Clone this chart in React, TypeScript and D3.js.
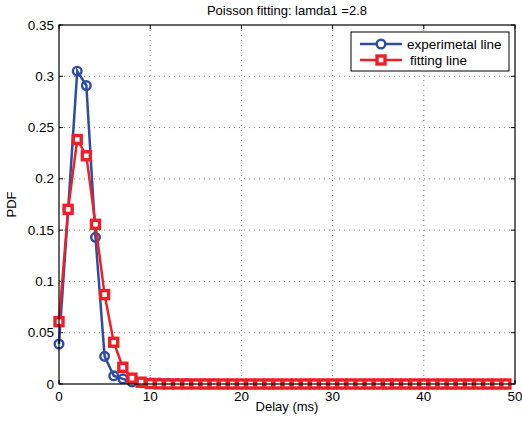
import React from "react";
import * as d3 from "d3";

const delays: number[] = Array.from({ length: 50 }, (_, i) => i);
const experimental: number[] = [
  0.039, 0.17, 0.305, 0.291, 0.143, 0.027, 0.008, 0.005, 0.002, 0.0012,
  0.001, 0.001, 0.0008, 0.0005, 0.0004, 0.0003, 0.0002, 0.0002, 0.0001, 0.0001,
  0, 0, 0, 0, 0, 0, 0, 0, 0, 0,
  0, 0, 0, 0, 0, 0, 0, 0, 0, 0,
  0, 0, 0, 0, 0, 0, 0, 0, 0, 0,
];
const fitting: number[] = [
  0.0608, 0.1703, 0.2384, 0.2225, 0.1557, 0.0872, 0.0407, 0.0163, 0.0057, 0.0018,
  0.0005, 0.0001, 0, 0, 0, 0, 0, 0, 0, 0,
  0, 0, 0, 0, 0, 0, 0, 0, 0, 0,
  0, 0, 0, 0, 0, 0, 0, 0, 0, 0,
  0, 0, 0, 0, 0, 0, 0, 0, 0, 0,
];
const xTicks = [0, 10, 20, 30, 40, 50];
const yTicks = [0, 0.05, 0.1, 0.15, 0.2, 0.25, 0.3, 0.35];
const title = "Poisson fitting: lamda1 =2.8";
const xLabel = "Delay (ms)";
const yLabel = "PDF";
const seriesNames = ["experimetal line", "fitting line"];

const BLUE = "#2c4da3";
const RED = "#ee2027";

export default function App() {
  const W = 522, H = 426;
  const left = 59, right = 515, top = 25, bottom = 384;
  const x = d3.scaleLinear().domain([0, 50]).range([left, right]);
  const y = d3.scaleLinear().domain([0, 0.35]).range([bottom, top]);
  const line = d3
    .line<[number, number]>()
    .x((d) => x(d[0]))
    .y((d) => y(d[1]));
  const expPts: [number, number][] = delays.map((d, i) => [d, experimental[i]]);
  const fitPts: [number, number][] = delays.map((d, i) => [d, fitting[i]]);
  const font = "'Liberation Sans', Arial, Helvetica, sans-serif";

  return (
    <svg
      width={W}
      height={H}
      style={{ position: "absolute", left: 0, top: 0, background: "#fff" }}
      fontFamily={font}
    >
      <rect x={0} y={0} width={W} height={H} fill="#fff" />
      {xTicks.slice(1, -1).map((t) => (
        <line
          key={"gx" + t}
          x1={x(t)}
          x2={x(t)}
          y1={top}
          y2={bottom}
          stroke="#666"
          strokeWidth={0.8}
          strokeDasharray="1,4"
        />
      ))}
      {yTicks.slice(1, -1).map((t) => (
        <line
          key={"gy" + t}
          x1={left}
          x2={right}
          y1={y(t)}
          y2={y(t)}
          stroke="#666"
          strokeWidth={0.8}
          strokeDasharray="1,4"
        />
      ))}
      {xTicks.map((t) => (
        <g key={"tx" + t}>
          <line x1={x(t)} x2={x(t)} y1={bottom} y2={bottom - 4} stroke="#000" />
          <line x1={x(t)} x2={x(t)} y1={top} y2={top + 4} stroke="#000" />
          <text x={x(t)} y={bottom + 17} fontSize={13.5} textAnchor="middle">
            {t}
          </text>
        </g>
      ))}
      {yTicks.map((t) => (
        <g key={"ty" + t}>
          <line x1={left} x2={left + 4} y1={y(t)} y2={y(t)} stroke="#000" />
          <line x1={right} x2={right - 4} y1={y(t)} y2={y(t)} stroke="#000" />
          <text x={left - 5} y={y(t) + 4.5} fontSize={13.5} textAnchor="end">
            {String(t)}
          </text>
        </g>
      ))}
      <path d={line(expPts) || ""} fill="none" stroke={BLUE} strokeWidth={2.5} />
      {expPts.map((p, i) => (
        <circle
          key={"c" + i}
          cx={x(p[0])}
          cy={y(p[1])}
          r={4.3}
          fill="none"
          stroke={BLUE}
          strokeWidth={2.4}
        />
      ))}
      <path d={line(fitPts) || ""} fill="none" stroke={RED} strokeWidth={2.5} />
      {fitPts.map((p, i) => (
        <rect
          key={"s" + i}
          x={x(p[0]) - 4}
          y={y(p[1]) - 4}
          width={8}
          height={8}
          fill="#fff"
          stroke={RED}
          strokeWidth={3.4}
        />
      ))}
      <rect
        x={left}
        y={top}
        width={right - left}
        height={bottom - top}
        fill="none"
        stroke="#000"
        strokeWidth={1.2}
      />
      <rect x={351} y={32} width={158} height={39} fill="#fff" stroke="#000" strokeWidth={1} />
      <line x1={360} x2={402} y1={44} y2={44} stroke={BLUE} strokeWidth={2.5} />
      <circle cx={381} cy={44} r={4.3} fill="#fff" stroke={BLUE} strokeWidth={2.4} />
      <text x={407} y={48.5} fontSize={13.5}>
        {seriesNames[0]}
      </text>
      <line x1={360} x2={402} y1={60} y2={60} stroke={RED} strokeWidth={2.5} />
      <rect x={377} y={56} width={8} height={8} fill="#fff" stroke={RED} strokeWidth={3.4} />
      <text x={410} y={64.5} fontSize={13.5}>
        {seriesNames[1]}
      </text>
      <text x={(left + right) / 2} y={15} fontSize={13} textAnchor="middle">
        {title}
      </text>
      <text x={(left + right) / 2} y={411} fontSize={13} textAnchor="middle">
        {xLabel}
      </text>
      <text
        transform={`translate(16,${(top + bottom) / 2}) rotate(-90)`}
        fontSize={13}
        textAnchor="middle"
      >
        {yLabel}
      </text>
    </svg>
  );
}
